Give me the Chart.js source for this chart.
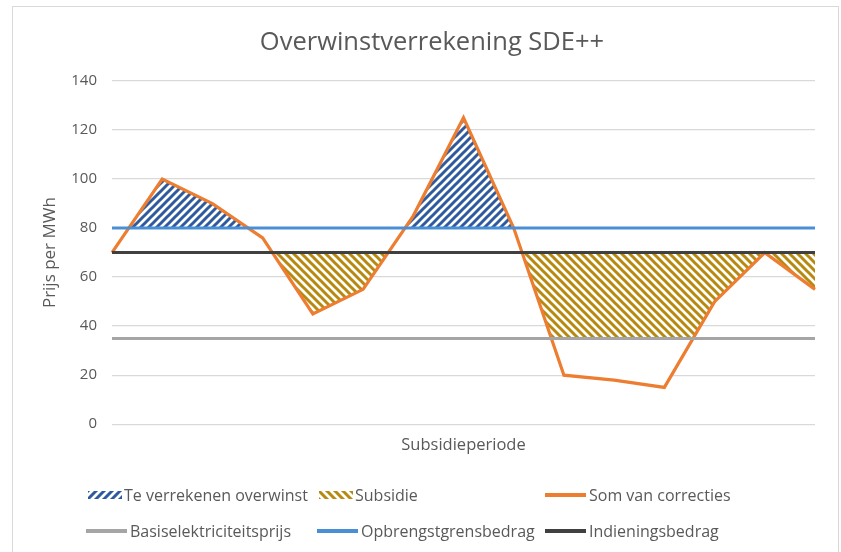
<!DOCTYPE html>
<html>
<head>
<meta charset="utf-8">
<script src="https://cdn.jsdelivr.net/npm/chart.js@4/dist/chart.umd.min.js"></script>
<style>
  body { margin: 0; background: #fff; overflow: hidden; font-family: 'Open Sans', sans-serif; }
  #frame { position: absolute; left: 12px; top: 6px; width: 827px; height: 600px; border: 1.5px solid #d9d9d9; box-sizing: border-box; }
  #wrap { position: absolute; left: 0; top: 0; width: 841px; height: 552px; }
  #legend { position: absolute; left: 86px; top: 477px; display: grid; grid-template-columns: 231px 228px auto; grid-auto-rows: 36px; align-items: center; color: #595959; font-size: 16px; }
  .item { display: flex; align-items: center; white-space: nowrap; }
  .item canvas { margin-right: 3px; }
  .item canvas.hatch { margin-left: 2px; margin-right: 2px; }
</style>
</head>
<body>
<div id="frame"></div>
<div id="wrap"><canvas id="chart"></canvas></div>
<div id="legend"></div>
<script>
// Data
const perioden = ['1', '2', '3', '4', '5', '6', '7', '8', '9', '10', '11', '12', '13', '14', '15'];
const somVanCorrecties = [70, 100, 90, 76, 45, 55, 85, 125, 80, 20, 18, 15, 50, 70, 55];
const basisprijs = [35, 35, 35, 35, 35, 35, 35, 35, 35, 35, 35, 35, 35, 35, 35];
const opbrengstgrens = [80, 80, 80, 80, 80, 80, 80, 80, 80, 80, 80, 80, 80, 80, 80];
const indiening = [70, 70, 70, 70, 70, 70, 70, 70, 70, 70, 70, 70, 70, 70, 70];
const yTicks = [0, 20, 40, 60, 80, 100, 120, 140];

// Hatch tiles (up = '/', down = '\')
function makeTile(color, dir) {
    let c = document.createElement('canvas');
    c.width = 8; c.height = 8;
    let g = c.getContext('2d');
    g.fillStyle = '#fff';
    g.fillRect(0, 0, 8, 8);
    g.strokeStyle = color;
    g.lineWidth = 3;
    g.beginPath();
    if (dir === 'up') {
        g.moveTo(-1, 9); g.lineTo(9, -1);
        g.moveTo(-3, 3); g.lineTo(3, -3);
        g.moveTo(5, 11); g.lineTo(11, 5);
    } else {
        g.moveTo(-1, -1); g.lineTo(9, 9);
        g.moveTo(-3, 5); g.lineTo(3, 11);
        g.moveTo(5, -3); g.lineTo(11, 3);
    }
    g.stroke();
    return c;
}

let blueTile = makeTile('#2f5b9e', 'up');
let goldTile = makeTile('#b8890f', 'down');

let ctx = document.getElementById('chart').getContext('2d');
let bluePattern = ctx.createPattern(blueTile, 'repeat');
let goldPattern = ctx.createPattern(goldTile, 'repeat');

Chart.defaults.font.family = "'Open Sans', sans-serif";
Chart.defaults.color = '#595959';

let chart = new Chart(ctx, {
    type: 'line',
    data: {
        labels: perioden,
        datasets: [
            { label: 'Som van correcties', data: somVanCorrecties, borderColor: '#ed7d31', borderWidth: 3.2, pointRadius: 0, fill: false, order: 4, tension: 0 },
            { label: 'Basiselektriciteitsprijs', data: basisprijs, borderColor: '#a5a5a5', borderWidth: 3, pointRadius: 0, fill: false, order: 3 },
            { label: 'Opbrengstgrensbedrag', data: opbrengstgrens, borderColor: '#4a8fd6', borderWidth: 3, pointRadius: 0, fill: false, order: 2 },
            { label: 'Indieningsbedrag', data: indiening, borderColor: '#404040', borderWidth: 3, pointRadius: 0, fill: false, order: 1 },
            // hatched areas
            { label: 'Te verrekenen overwinst', data: somVanCorrecties, borderColor: 'rgba(0,0,0,0)', borderWidth: 0, pointRadius: 0,
              fill: { target: 2, above: bluePattern, below: 'rgba(0,0,0,0)' }, order: 7, swatchTile: blueTile },
            { label: 'Subsidie', data: somVanCorrecties, borderColor: 'rgba(0,0,0,0)', borderWidth: 0, pointRadius: 0,
              fill: { target: 3, above: 'rgba(0,0,0,0)', below: goldPattern }, order: 6, swatchTile: goldTile },
            // white cover: subsidy stops at the basis price
            { label: '', data: basisprijs, borderColor: 'rgba(0,0,0,0)', borderWidth: 0, pointRadius: 0,
              fill: { target: 0, above: '#ffffff', below: 'rgba(0,0,0,0)' }, order: 5 }
        ]
    },
    options: {
        responsive: true,
        maintainAspectRatio: false,
        animation: false,
        layout: { padding: { left: 49, right: 26, top: 0, bottom: 97 } },
        plugins: {
            legend: { display: false },
            tooltip: { enabled: false },
            title: {
                display: true,
                text: 'Overwinstverrekening SDE++',
                font: { size: 25.5, weight: 'normal' },
                color: '#595959',
                padding: { top: 27.5, bottom: 22.9 }
            }
        },
        scales: {
            x: {
                grid: { display: false, drawTicks: false },
                border: { display: false },
                ticks: { display: false },
                title: { display: true, text: 'Subsidieperiode', font: { size: 16.5 }, color: '#595959', padding: { top: 11, bottom: 0 } }
            },
            y: {
                min: 0,
                max: 140,
                afterBuildTicks: function (scale) {
                    scale.ticks = yTicks.map(v => ({ value: v }));
                },
                afterFit: function (scale) {
                    scale.width = 63;
                },
                grid: { color: '#d9d9d9', lineWidth: 1.3, drawTicks: false },
                border: { display: false },
                ticks: { padding: 15, font: { size: 15 }, color: '#595959' },
                title: { display: true, text: 'Prijs per MWh', font: { size: 17 }, color: '#595959', padding: { top: -9, bottom: 0 } }
            }
        }
    }
});

// HTML legend in the same grid as the original
const legendOrder = [4, 5, 0, 1, 2, 3];
let legend = document.getElementById('legend');
legendOrder.forEach(function (i) {
    let ds = chart.data.datasets[i];
    let item = document.createElement('div');
    item.className = 'item';
    let sw = document.createElement('canvas');
    let g = sw.getContext('2d');
    if (ds.swatchTile) {
        sw.className = 'hatch';
        sw.width = 34; sw.height = 8;
        g.fillStyle = g.createPattern(ds.swatchTile, 'repeat');
        g.fillRect(0, 0, 34, 8);
    } else {
        sw.width = 41; sw.height = 4;
        g.fillStyle = ds.borderColor;
        g.fillRect(0, 0, 41, 4);
    }
    item.appendChild(sw);
    let txt = document.createElement('span');
    txt.textContent = ds.label;
    item.appendChild(txt);
    legend.appendChild(item);
});
</script>
</body>
</html>
